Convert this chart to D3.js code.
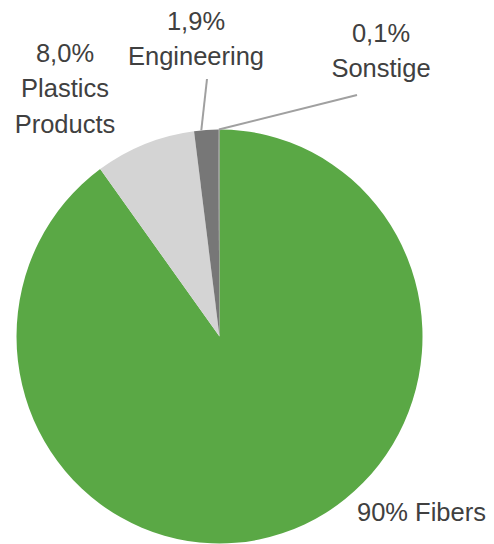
<!DOCTYPE html>
<html>
<head>
<meta charset="utf-8">
<script src="https://cdn.jsdelivr.net/npm/d3@7"></script>
<style>
  html, body { margin: 0; padding: 0; background: #fff; }
  svg { display: block; }
  text { font-family: "Liberation Sans", Arial, sans-serif; fill: #404040; }
</style>
</head>
<body>
<script>
const categories = ["Fibers", "Plastics Products", "Engineering", "Sonstige"];
const values = [90, 8.0, 1.9, 0.1];
const valueLabels = ["90%", "8,0%", "1,9%", "0,1%"];
const colors = ["#5AA845", "#D4D4D4", "#777777", "#7E7E7E"];

const W = 494, H = 544;
const cx = 219.5, cy = 336.5, r = 203, yScale = 207 / 203;

const svg = d3.select("body").append("svg").attr("width", W).attr("height", H);

const data = categories.map((c, i) => ({ cat: c, value: values[i], label: valueLabels[i], color: colors[i] }));
const pie = d3.pie().sort(null).value(d => d.value);
const arcs = pie(data);
const arc = d3.arc().innerRadius(0).outerRadius(r);

const g = svg.append("g").attr("transform", `translate(${cx},${cy}) scale(1,${yScale})`);
g.selectAll("path").data(arcs).enter().append("path")
  .attr("d", arc)
  .attr("fill", d => d.data.color);

function edgePoint(a) {
  return [cx + r * Math.sin(a), cy - r * Math.cos(a) * yScale];
}

const fs = 25.5;
const labelLayout = [
  { i: 0, lines: [valueLabels[0] + " " + categories[0]], x: 357, y: 521, anchor: "start" },
  { i: 1, lines: [valueLabels[1], "Plastics", "Products"], x: 65, y: 62, anchor: "middle" },
  { i: 2, lines: [valueLabels[2], categories[2]], x: 196, y: 30, anchor: "middle",
    leader: { from: [207, 79], frac: 0.3 } },
  { i: 3, lines: [valueLabels[3], categories[3]], x: 381, y: 42, anchor: "middle",
    leader: { from: [357, 95], frac: 0.5 } }
];

labelLayout.forEach(L => {
  const a = arcs[L.i];
  if (L.leader) {
    const ang = a.startAngle + (a.endAngle - a.startAngle) * L.leader.frac;
    const p = edgePoint(ang);
    svg.append("line")
      .attr("x1", L.leader.from[0]).attr("y1", L.leader.from[1])
      .attr("x2", p[0]).attr("y2", p[1])
      .attr("stroke", "#A0A0A0").attr("stroke-width", 2);
  }
  const t = svg.append("text")
    .attr("text-anchor", L.anchor)
    .attr("font-size", fs);
  L.lines.forEach((ln, k) => {
    t.append("tspan").attr("x", L.x).attr("y", L.y + k * 35.3).text(ln);
  });
});
</script>
</body>
</html>
